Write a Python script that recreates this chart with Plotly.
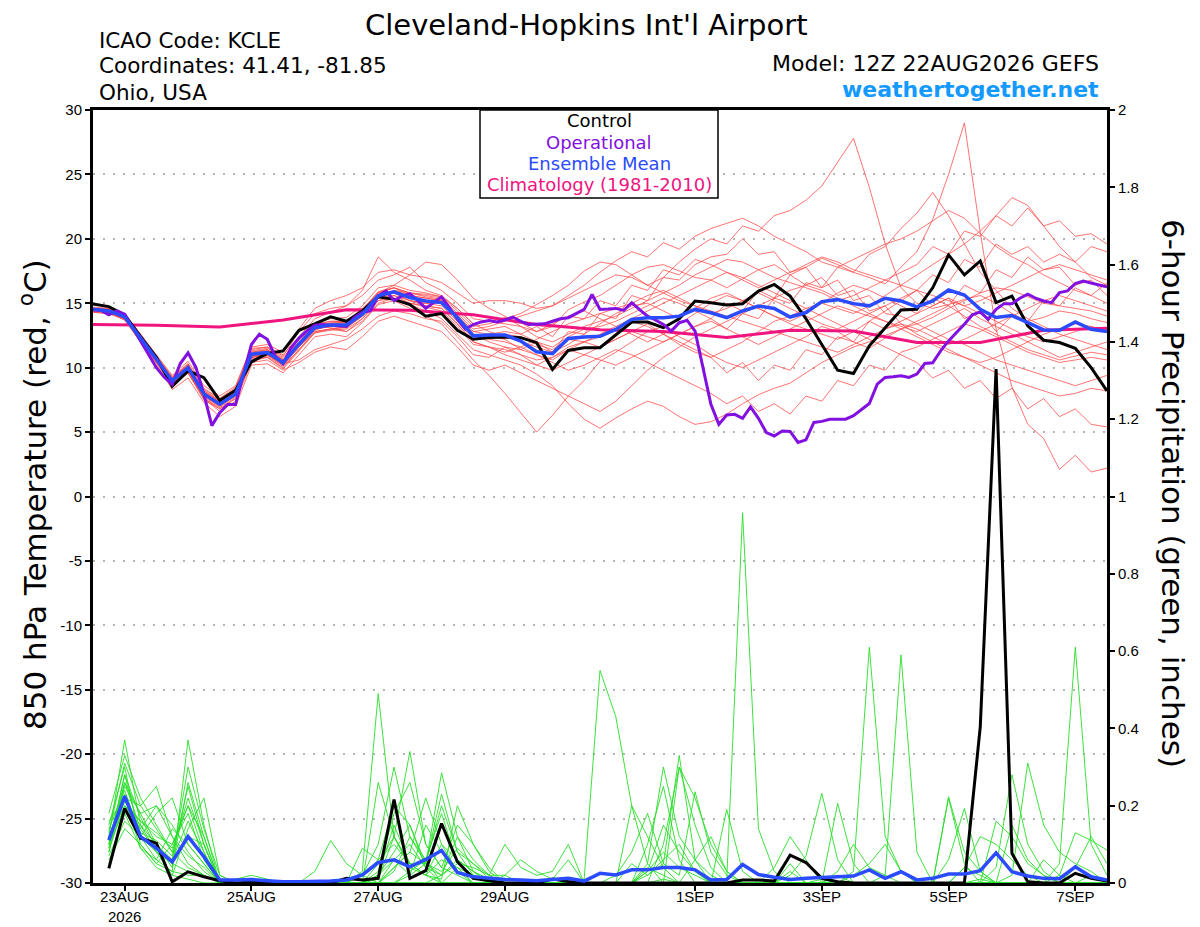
import plotly.graph_objects as go
import pandas as pd

# forecast valid times: GEFS 6-hourly, operational GFS 3-hourly, climatology daily
t6 = pd.date_range("2026-08-22 12:00", "2026-09-07 12:00", freq="6h")
tp = pd.date_range("2026-08-22 18:00", "2026-09-07 12:00", freq="6h")
t3 = pd.date_range("2026-08-22 12:00", "2026-09-07 12:00", freq="3h")
tc = pd.date_range("2026-08-22 12:00", "2026-09-07 12:00", freq="1D")

tick_dates = ["2026-08-23", "2026-08-25", "2026-08-27", "2026-08-29",
              "2026-09-01", "2026-09-03", "2026-09-05", "2026-09-07"]
tick_text = ["23AUG<br>2026", "25AUG", "27AUG", "29AUG", "1SEP", "3SEP", "5SEP", "7SEP"]
temp_ticks = [30, 25, 20, 15, 10, 5, 0, -5, -10, -15, -20, -25, -30]
temp_tick_text = ["30", "25", "20", "15", "10", "5", "0", "-5", "-10", "-15", "-20", "-25", "-30"]

# 850 hPa temperature (C)
control_t = [
    14.95, 14.74, 14.1, 12.4, 10.8, 8.55, 9.75, 9.22, 7.45, 8.25, 10.45, 11.1, 11.3,
    12.9, 13.4, 13.94, 13.6, 14.4, 15.5, 15.3, 14.9, 14.0, 14.2, 12.9, 12.2, 12.35,
    12.38, 12.33, 11.94, 9.87, 11.34, 11.55, 11.55, 12.58, 13.54, 13.54, 13.1, 13.8, 15.17,
    15.04, 14.86, 14.96, 15.94, 16.46, 15.56, 13.8, 11.82, 9.8, 9.55, 11.7, 13.1, 14.48,
    14.53, 16.2, 18.75, 17.2, 18.28, 15.05, 15.56, 13.24, 12.13, 11.95, 11.5, 10.0, 8.2]

mean_t = [
    14.53, 14.4, 13.94, 12.34, 10.66, 8.98, 10.0, 7.95, 7.17, 7.95, 11.05, 11.18, 10.4,
    11.82, 13.1, 13.32, 13.32, 14.15, 15.57, 15.88, 15.44, 15.18, 15.05, 13.89, 12.47, 12.53,
    12.53, 12.07, 11.24, 11.09, 12.27, 12.38, 12.43, 12.97, 13.75, 13.88, 13.88, 14.0, 14.52,
    14.26, 13.88, 14.4, 14.78, 14.6, 13.93, 14.28, 15.13, 15.28, 14.97, 14.8, 15.39, 15.18,
    14.72, 15.18, 16.03, 15.64, 14.53, 13.89, 14.04, 13.5, 12.93, 12.9, 13.55, 12.98, 12.8]

oper_t = [
    14.5, 14.45, 14.1, 14.4, 14.15, 13.1, 12.1, 11.05, 10.0, 9.25, 8.7, 10.3, 11.15,
    10.0, 7.95, 5.5, 6.5, 7.15, 7.15, 9.5, 11.8, 12.6, 12.2, 10.9, 10.3, 11.55,
    12.3, 12.85, 13.3, 13.35, 13.3, 13.2, 13.2, 13.9, 14.3, 14.4, 15.55, 15.95, 15.2,
    15.55, 15.75, 15.2, 14.6, 15.05, 15.5, 14.65, 13.75, 13.0, 13.35, 13.55, 13.65,
    13.55, 13.7, 13.93, 13.6, 13.36, 13.36, 13.4, 13.6, 13.8, 13.88, 14.2, 14.52, 15.68,
    14.52, 14.55, 14.6, 14.45, 15.04, 14.5, 14.0, 13.7, 13.36, 12.84, 13.49, 13.67, 12.84,
    10.0, 7.16, 5.6, 6.33, 6.38, 6.07, 6.95, 6.07, 4.96, 4.7, 5.09, 5.05, 4.2, 4.4,
    5.75, 5.83, 6.0, 6.0, 6.0, 6.27, 6.78, 7.22, 8.72, 9.24, 9.29, 9.37, 9.24, 9.5,
    10.32, 10.38, 11.3, 12.08, 12.73, 13.37, 14.1, 14.33, 13.76, 14.53, 14.97, 14.97, 15.39,
    15.7, 15.39, 15.18, 15.05, 15.83, 15.96, 16.52, 16.73, 16.6, 16.42, 16.27]

clim_t = [13.35, 13.3, 13.15, 13.7, 14.5, 14.45, 14.1, 13.35, 12.95, 12.8, 12.35,
          12.9, 12.85, 11.95, 11.95, 12.9, 13.05]

temp_members = [
    [14.6, 14.5, 14.0, 12.5, 10.9, 9.3, 10.3, 8.4, 7.6, 8.3, 11.3, 11.5, 10.8,
     12.2, 13.5, 13.8, 13.9, 14.8, 16.2, 16.4, 16.0, 15.8, 15.5, 14.6, 13.4, 13.6,
     13.9, 13.5, 12.8, 13.2, 14.5, 15.1, 15.6, 16.4, 17.2, 17.8, 18.0, 17.5, 17.0,
     16.8, 16.2, 16.9, 17.6, 18.0, 17.2, 17.8, 18.5, 18.0, 17.4, 17.0, 16.5, 17.8,
     19.0, 21.5, 25.0, 29.0, 20.5, 13.0, 8.5, 5.6, 4.5, 2.1, 3.2, 1.9, 2.2],
    [14.4, 14.3, 13.8, 12.1, 10.4, 8.6, 9.6, 7.5, 6.8, 7.6, 10.7, 10.8, 9.9,
     11.3, 12.7, 13.0, 13.1, 14.0, 15.4, 16.0, 15.8, 15.7, 15.5, 14.4, 13.2, 13.4,
     13.8, 14.2, 14.9, 15.6, 16.4, 17.5, 18.2, 18.0, 17.2, 16.4, 17.0, 18.2, 19.2,
     20.0, 19.6, 21.0, 20.6, 21.8, 22.2, 23.0, 24.1, 26.0, 27.8, 24.0, 19.6, 16.2,
     15.0, 14.6, 14.9, 15.3, 15.6, 15.0, 14.2, 13.6, 13.9, 14.4, 14.2, 13.8, 13.5],
    [14.5, 14.3, 13.7, 12.0, 10.3, 8.3, 9.2, 7.3, 6.2, 7.0, 10.2, 10.3, 9.6,
     11.0, 12.4, 12.6, 12.4, 13.5, 14.9, 15.2, 14.6, 14.0, 13.4, 12.0, 10.6, 9.4,
     8.0, 6.5, 5.0, 6.3, 7.8, 9.0, 10.5, 11.2, 12.0, 12.8, 13.2, 12.4, 11.8,
     11.0, 10.4, 10.0, 10.6, 11.2, 11.8, 12.4, 13.2, 12.8, 12.0, 11.5, 12.3, 13.0,
     13.6, 14.2, 14.8, 14.0, 13.2, 12.6, 12.0, 11.4, 11.0, 10.6, 10.9, 11.2, 11.0],
    [14.7, 14.6, 14.2, 12.6, 10.9, 9.2, 10.2, 8.1, 7.4, 8.2, 11.2, 11.4, 10.7,
     12.0, 13.2, 13.1, 12.8, 13.6, 15.0, 15.4, 14.9, 14.4, 13.8, 12.6, 11.4, 11.0,
     10.6, 10.2, 9.5, 8.6, 7.2, 6.0, 5.3, 6.1, 6.8, 7.4, 7.0, 6.2, 5.6,
     5.8, 6.4, 7.2, 7.9, 8.4, 8.8, 9.6, 10.4, 11.0, 11.6, 12.0, 12.5, 13.0,
     13.4, 13.9, 14.6, 15.2, 15.8, 16.2, 16.0, 15.5, 15.0, 14.8, 14.6, 14.4, 14.0],
    [14.4, 14.4, 14.1, 12.6, 11.0, 9.4, 10.5, 8.6, 7.8, 8.6, 11.6, 11.8, 11.2,
     13.0, 14.6, 15.2, 15.6, 16.2, 17.4, 17.6, 17.2, 17.0, 16.6, 15.8, 15.0, 15.2,
     15.2, 15.0, 14.6, 14.8, 15.6, 16.4, 17.4, 18.3, 19.0, 18.6, 19.7, 19.2, 20.2,
     20.8, 21.2, 21.6, 21.0, 20.2, 19.6, 19.0, 18.2, 17.8, 18.4, 19.0, 19.6, 20.0,
     20.6, 21.4, 22.2, 21.6, 20.4, 19.4, 18.6, 18.0, 17.2, 16.6, 16.0, 15.6, 15.0],
    [14.6, 14.5, 14.0, 12.4, 10.8, 9.1, 10.1, 8.2, 7.5, 8.4, 11.4, 11.6, 11.0,
     12.4, 13.8, 14.3, 14.8, 16.0, 18.6, 17.4, 16.8, 16.0, 15.6, 14.6, 13.4, 12.8,
     12.4, 12.0, 11.6, 11.2, 11.8, 12.6, 13.4, 14.2, 14.8, 15.0, 14.4, 13.8, 14.6,
     15.4, 15.8, 15.2, 14.6, 14.0, 13.4, 13.0, 12.6, 12.2, 12.8, 13.6, 14.4, 15.2,
     16.0, 17.2, 16.6, 18.4, 17.8, 19.6, 18.8, 19.4, 18.2, 18.8, 18.2, 19.4, 19.0],
    [14.5, 14.4, 13.9, 12.2, 10.6, 8.8, 9.8, 7.8, 7.0, 7.8, 10.8, 11.0, 10.2,
     11.6, 12.9, 13.3, 13.6, 14.6, 15.8, 16.4, 17.2, 18.2, 18.0, 16.8, 15.4, 14.6,
     14.0, 13.2, 12.4, 12.0, 12.6, 13.2, 13.6, 14.0, 14.6, 15.2, 15.8, 16.4, 17.2,
     17.8, 18.4, 18.2, 17.6, 17.0, 16.6, 16.2, 15.8, 15.2, 15.6, 16.2, 16.8, 17.4,
     18.0, 19.4, 18.8, 20.6, 20.2, 21.8, 21.0, 22.4, 21.0, 21.4, 20.2, 20.4, 19.6],
    [14.3, 14.2, 13.7, 12.0, 10.4, 8.7, 9.6, 7.6, 6.9, 7.7, 10.6, 10.9, 10.1,
     11.4, 12.7, 12.9, 13.0, 13.8, 15.2, 15.4, 15.0, 14.7, 14.4, 13.2, 11.8, 11.6,
     11.4, 11.0, 10.2, 9.8, 10.4, 11.0, 11.6, 12.2, 12.8, 13.4, 12.6, 11.8, 11.2,
     10.8, 11.4, 12.0, 12.8, 13.6, 14.0, 14.6, 15.0, 14.6, 14.2, 14.8, 15.6, 16.4,
     17.2, 18.0, 18.8, 19.6, 20.6, 21.8, 23.2, 22.6, 21.0, 19.4, 18.2, 17.0, 16.4],
    [14.6, 14.4, 13.8, 12.2, 10.5, 8.8, 9.9, 8.0, 7.3, 8.0, 11.0, 11.2, 10.5,
     11.9, 13.2, 13.5, 13.5, 14.4, 15.8, 16.2, 15.6, 15.4, 15.2, 14.0, 12.6, 12.0,
     11.6, 11.0, 10.6, 10.8, 11.6, 12.0, 12.4, 13.0, 13.6, 13.2, 12.6, 12.0, 11.4,
     10.8, 9.6, 10.4, 9.0, 10.2, 9.8, 11.4, 11.0, 12.4, 12.0, 13.6, 13.0, 13.4,
     12.6, 12.0, 11.4, 10.8, 10.2, 9.6, 9.0, 8.6, 8.2, 7.8, 8.0, 8.4, 8.2],
    [14.4, 14.3, 13.8, 12.3, 10.6, 8.9, 10.0, 7.9, 7.1, 7.9, 10.9, 11.0, 10.3,
     10.6, 11.4, 11.8, 12.2, 13.0, 14.0, 14.4, 14.2, 13.8, 13.6, 12.4, 11.0, 10.8,
     11.6, 11.4, 11.0, 10.4, 9.8, 10.2, 10.8, 11.4, 11.0, 10.4, 9.8, 9.2, 8.6,
     8.0, 7.2, 7.8, 6.6, 7.2, 6.4, 7.8, 7.4, 9.0, 8.6, 10.2, 9.8, 11.2,
     11.6, 12.2, 12.8, 13.4, 13.0, 12.4, 11.8, 11.2, 10.8, 10.4, 10.6, 10.8, 10.6],
    [14.5, 14.5, 14.0, 12.4, 10.8, 9.1, 10.2, 8.2, 7.4, 8.2, 11.2, 11.4, 10.6,
     12.0, 13.3, 13.6, 13.6, 14.5, 15.9, 16.2, 15.8, 15.5, 15.3, 14.1, 12.8, 13.0,
     13.2, 12.6, 13.2, 12.4, 14.0, 13.8, 15.2, 14.8, 16.4, 16.0, 17.6, 17.2, 18.4,
     18.0, 17.4, 16.8, 16.2, 16.8, 17.4, 18.0, 18.6, 18.2, 17.6, 17.2, 16.8, 16.4,
     16.0, 15.6, 15.2, 14.8, 15.2, 15.8, 16.4, 17.0, 17.6, 18.0, 17.6, 17.2, 16.8],
    [14.6, 14.5, 14.1, 12.5, 10.8, 9.0, 9.8, 7.6, 6.6, 7.4, 10.4, 10.6, 9.8,
     10.4, 11.2, 11.6, 11.4, 12.4, 13.6, 14.0, 13.6, 13.2, 12.8, 11.6, 10.2, 9.8,
     10.2, 9.6, 9.0, 8.4, 7.8, 7.2, 6.6, 7.4, 8.6, 9.8, 10.8, 11.6, 12.4,
     13.0, 13.6, 14.2, 14.8, 15.4, 16.0, 16.4, 16.0, 15.4, 14.8, 14.2, 13.6, 13.0,
     12.4, 11.8, 11.2, 10.8, 10.4, 10.8, 11.4, 12.0, 12.6, 13.0, 13.4, 13.2, 12.8],
    [14.5, 14.3, 13.9, 12.3, 10.7, 9.0, 10.0, 8.0, 7.3, 8.1, 11.1, 11.3, 10.5,
     11.9, 13.1, 13.4, 13.6, 14.4, 15.6, 15.8, 15.2, 15.0, 15.0, 14.0, 12.8, 12.6,
     12.8, 12.6, 12.0, 11.6, 12.4, 13.0, 13.2, 13.6, 14.2, 14.8, 15.4, 15.0, 14.4,
     13.8, 13.0, 14.2, 13.8, 15.4, 15.0, 16.6, 16.2, 17.8, 17.4, 18.8, 19.4, 20.8,
     22.0, 23.6, 21.8, 19.6, 17.4, 16.0, 14.6, 13.8, 13.2, 12.6, 12.2, 11.8, 11.4],
    [14.4, 14.4, 13.9, 12.2, 10.5, 8.7, 9.7, 7.7, 7.0, 7.9, 10.8, 11.0, 10.2,
     11.6, 13.0, 13.2, 13.3, 14.2, 15.6, 15.8, 15.2, 15.0, 14.8, 13.6, 12.2, 12.4,
     12.6, 12.4, 11.8, 11.4, 12.2, 12.0, 11.6, 12.2, 12.8, 12.4, 12.0, 12.6, 13.2,
     13.6, 13.0, 12.4, 11.8, 12.4, 13.0, 13.6, 14.2, 14.8, 14.4, 14.0, 13.6, 13.2,
     12.8, 13.4, 14.0, 14.6, 13.8, 13.2, 12.6, 12.0, 11.4, 10.8, 11.2, 11.6, 12.0],
    [14.6, 14.6, 14.1, 12.5, 10.9, 9.2, 10.3, 8.3, 7.6, 8.5, 11.5, 11.6, 10.9,
     12.8, 14.2, 14.6, 14.8, 15.6, 16.8, 17.2, 17.8, 16.6, 16.0, 15.0, 13.8, 13.6,
     13.4, 13.2, 12.8, 13.4, 14.0, 14.4, 13.8, 13.2, 12.6, 12.0, 12.6, 13.4, 14.2,
     15.0, 15.6, 15.2, 14.6, 14.0, 13.6, 14.2, 15.0, 15.8, 16.4, 16.0, 15.4, 14.8,
     14.2, 14.8, 15.4, 14.8, 14.2, 13.6, 13.0, 12.4, 12.0, 12.4, 12.8, 13.2, 12.8],
    [14.3, 14.2, 13.8, 12.2, 10.6, 8.9, 9.9, 7.9, 7.1, 7.8, 10.8, 11.0, 10.2,
     11.6, 12.8, 13.0, 13.2, 14.0, 15.4, 15.6, 15.0, 14.8, 14.6, 13.4, 12.0, 11.6,
     11.2, 11.6, 12.2, 12.8, 13.4, 13.8, 14.2, 14.6, 15.0, 15.6, 16.0, 15.4, 14.8,
     14.2, 14.6, 15.2, 15.8, 15.2, 14.6, 14.0, 13.4, 13.0, 13.6, 14.2, 14.8, 15.4,
     16.0, 14.8, 15.4, 13.8, 14.4, 12.8, 14.0, 13.6, 15.2, 14.8, 16.2, 15.6, 16.6],
    [14.5, 14.4, 14.0, 12.4, 10.7, 9.1, 10.1, 8.1, 7.3, 8.0, 11.0, 11.2, 10.4,
     11.8, 13.2, 13.4, 13.4, 14.2, 15.6, 16.0, 15.6, 15.4, 15.2, 14.0, 12.6, 12.4,
     12.2, 11.4, 12.0, 11.2, 12.8, 12.6, 14.2, 13.8, 15.6, 15.2, 17.0, 16.8, 18.0,
     18.6, 18.8, 20.0, 18.8, 19.0, 17.4, 17.8, 16.2, 16.8, 15.2, 15.6, 14.2, 14.0,
     13.4, 12.8, 12.2, 11.8, 11.2, 10.6, 10.2, 9.8, 9.4, 9.0, 8.6, 9.0, 9.4],
    [14.4, 14.3, 13.8, 12.2, 10.5, 8.6, 9.6, 7.6, 6.8, 7.6, 10.5, 10.8, 10.0,
     11.4, 12.8, 13.0, 12.8, 13.8, 15.2, 15.6, 15.2, 14.8, 14.6, 13.4, 12.0, 11.6,
     11.0, 10.6, 10.2, 10.8, 11.4, 11.0, 10.6, 10.2, 10.8, 11.4, 12.0, 12.6, 13.2,
     13.8, 15.0, 14.4, 16.0, 15.4, 17.2, 16.4, 17.0, 15.6, 16.0, 14.4, 14.8, 13.4,
     13.0, 12.4, 11.8, 12.2, 12.8, 13.4, 14.0, 14.6, 15.2, 15.6, 15.2, 14.8, 14.4],
    [14.6, 14.4, 13.9, 12.3, 10.8, 9.0, 10.0, 8.0, 7.2, 8.0, 11.1, 11.3, 10.6,
     12.0, 13.4, 13.6, 13.6, 14.4, 15.8, 16.2, 15.8, 15.6, 15.4, 14.2, 13.0, 13.2,
     13.6, 14.0, 14.4, 14.8, 15.4, 16.0, 16.6, 17.2, 17.0, 16.4, 15.8, 15.2, 14.8,
     14.4, 14.0, 13.6, 13.2, 12.8, 12.4, 12.0, 11.6, 11.2, 11.8, 12.4, 13.0, 13.6,
     14.2, 15.4, 14.8, 16.4, 15.8, 17.6, 17.0, 18.6, 17.6, 17.8, 16.4, 16.8, 15.6],
    [14.5, 14.5, 14.0, 12.4, 10.8, 9.1, 10.0, 7.9, 7.1, 7.9, 10.9, 11.1, 10.3,
     11.7, 13.0, 13.2, 13.1, 14.0, 15.4, 15.8, 15.4, 15.2, 15.0, 13.8, 12.4, 12.2,
     12.0, 11.6, 11.0, 10.6, 11.4, 12.0, 12.6, 13.2, 13.8, 14.4, 15.0, 15.6, 16.2,
     16.8, 17.4, 17.0, 16.4, 15.8, 15.2, 14.6, 14.0, 13.4, 12.8, 12.2, 11.6, 11.0,
     10.4, 9.2, 9.8, 8.4, 9.0, 7.6, 8.4, 6.8, 7.6, 6.2, 6.8, 5.6, 5.4],
]

# 6-hour precipitation (inches)
control_p = [
    .038, .193, .116, .103, .003, .029, .016, .006, 0, .002, 0, 0, 0, 0, 0, .012,
    .008, .012, .216, .012, .032, .154, .055, .012, .006, 0, 0, 0, .01, .004, 0, 0,
    0, 0, 0, 0, 0, 0, 0, 0, .008, .008, .005, .072, .053, .012, .003, 0,
    0, 0, 0, 0, 0, 0, 0, .404, 1.33, .077, .003, 0, 0, .025, .012, .005]

mean_p = [
    .111, .225, .12, .09, .055, .12, .068, .008, .008, .009, .006, .003, .003, .003, .005, .008,
    .021, .053, .06, .042, .061, .084, .027, .016, .012, .009, .008, .006, .009, .012, .005, .025,
    .021, .034, .034, .04, .04, .034, .008, .009, .048, .022, .015, .009, .012, .013, .016, .018,
    .034, .012, .029, .008, .012, .023, .023, .032, .078, .029, .018, .012, .011, .042, .016, .008]

precip_members = [
    [.12, .37, .15, .08, .02, .01, 0, 0, 0, 0, 0, 0, 0, 0, 0,
     0, .03, .49, .12, .04, .02, 0, 0, 0, 0, 0, 0, 0, 0, 0, 0,
     0, 0, 0, 0, .01, 0, 0, 0, 0, 0, 0, 0, 0, 0, 0, .02, 0,
     0, 0, 0, 0, 0, 0, 0, .01, 0, 0, 0, 0, 0, 0, 0, 0],
    [.1, .28, .12, .06, .03, .37, .15, 0, 0, 0, 0, 0, 0, 0, 0,
     0, .02, .06, .1, .05, .02, .06, .04, 0, 0, 0, 0, 0, 0, 0, .01,
     .55, .43, .2, .05, 0, 0, 0, 0, 0, 0, 0, 0, 0, 0, .01, 0, 0,
     0, 0, 0, 0, 0, 0, 0, 0, 0, 0, 0, 0, 0, 0, 0, 0],
    [.08, .22, .2, .25, .12, .05, .02, 0, 0, 0, 0, 0, 0, 0, 0,
     0, 0, .05, .12, .34, .1, .04, .02, 0, 0, 0, 0, 0, 0, 0, 0,
     0, 0, 0, .05, .3, .12, .06, .02, 0, 0, 0, 0, 0, 0, 0, 0, .03,
     .61, .12, .03, 0, 0, 0, 0, 0, 0, 0, 0, 0, 0, 0, 0, 0],
    [.15, .3, .1, .05, .1, .2, .08, 0, 0, 0, 0, 0, 0, 0, 0,
     0, 0, 0, .04, .08, .22, .1, .03, 0, 0, 0, 0, 0, 0, 0, 0,
     0, 0, 0, 0, 0, .3, .22, .1, .03, 0, 0, 0, 0, 0, 0, 0, 0,
     0, .02, .59, .08, 0, 0, 0, 0, 0, 0, 0, 0, 0, 0, 0, 0],
    [.05, .18, .09, .04, .02, .14, .22, .02, 0, 0, 0, 0, 0, 0, 0,
     0, 0, .26, .12, .05, .05, .285, .12, .03, .01, 0, 0, 0, 0, 0, 0,
     0, .02, .08, .18, .05, .02, .236, .08, .02, 0, 0, 0, 0, 0, 0, 0, 0,
     0, 0, 0, 0, 0, .22, .05, 0, 0, 0, 0, 0, .05, .61, .1, .02],
    [.1, .25, .18, .1, .04, .26, .12, 0, 0, 0, 0, 0, 0, 0, 0,
     0, 0, .02, .06, .02, .05, .2, .08, .02, 0, 0, 0, 0, 0, 0, 0,
     0, 0, .05, .02, .05, .33, .06, 0, 0, 0, 0, 0, 0, 0, 0, 0, .02,
     .05, .1, .03, 0, 0, 0, 0, 0, 0, .02, .31, .15, .08, .05, .03, 0],
    [.18, .33, .22, .15, .08, .04, .02, 0, 0, 0, 0, 0, 0, 0, 0,
     0, 0, 0, 0, 0, 0, 0, 0, 0, 0, 0, 0, 0, 0, 0, 0,
     0, 0, 0, 0, 0, 0, 0, 0, .01, .958, .14, .03, 0, 0, 0, 0, 0,
     0, 0, 0, 0, 0, 0, 0, 0, 0, 0, 0, 0, 0, 0, 0, 0],
    [.12, .2, .14, .2, .15, .08, .03, 0, .01, 0, 0, 0, 0, .03, .11,
     .05, .02, 0, 0, .02, .15, .08, .03, .02, 0, 0, 0, 0, 0, 0, 0,
     0, 0, .2, .12, .04, 0, 0, 0, .19, .03, 0, 0, .02, .07, .232, .06, 0,
     0, 0, 0, 0, 0, 0, 0, 0, 0, 0, 0, .06, .02, 0, 0, 0],
    [.14, .24, .12, .18, .22, .1, .05, 0, 0, 0, 0, 0, 0, 0, 0,
     0, .09, .06, .2, .15, .05, .23, .08, .05, .01, 0, 0, 0, 0, 0, 0,
     0, 0, 0, .1, .25, .06, 0, 0, 0, 0, 0, 0, 0, 0, 0, .206, .05,
     0, 0, 0, 0, 0, .06, .193, .03, 0, 0, 0, 0, 0, 0, 0, 0],
    [.06, .14, .1, .05, .03, .02, .02, 0, 0, 0, 0, 0, 0, 0, 0,
     0, .02, .1, .3, .12, .06, .18, .05, .02, 0, 0, 0, 0, 0, 0, 0,
     0, 0, 0, 0, 0, 0, 0, 0, 0, 0, 0, 0, 0, 0, 0, 0, 0,
     0, 0, 0, 0, 0, .223, .08, .03, 0, 0, 0, 0, 0, 0, 0, 0],
    [.09, .2, .16, .12, .1, .18, .06, 0, 0, 0, 0, 0, 0, 0, 0,
     0, 0, 0, 0, 0, 0, .02, .05, .04, .02, .02, 0, 0, 0, 0, 0,
     0, 0, 0, 0, 0, 0, 0, 0, 0, 0, 0, 0, 0, 0, 0, 0, 0,
     0, 0, 0, 0, 0, 0, 0, 0, .04, .28, .1, .03, 0, 0, .02, 0],
    [.11, .26, .14, .08, .06, .3, .14, .02, 0, 0, 0, 0, 0, 0, 0,
     0, 0, .03, .18, .26, .1, .04, .15, .1, .04, 0, 0, 0, 0, 0, 0,
     0, 0, 0, .03, .08, .04, .02, 0, 0, 0, 0, .04, .12, .06, 0, 0, 0,
     0, 0, 0, 0, 0, 0, 0, 0, 0, 0, 0, 0, .02, .13, .11, .085],
    [.07, .16, .12, .08, .05, .12, .1, 0, 0, 0, 0, 0, 0, 0, 0,
     0, 0, 0, .04, .08, .05, .02, .12, .06, .02, .1, .04, .02, .03, .1, 0,
     0, 0, 0, 0, 0, 0, 0, 0, 0, 0, 0, 0, 0, 0, 0, 0, 0,
     0, 0, 0, 0, 0, 0, .04, .12, .1, .06, .02, 0, 0, 0, 0, 0],
    [.13, .31, .2, .14, .08, .22, .1, 0, 0, 0, 0, 0, 0, 0, 0,
     0, 0, .01, .12, .05, .02, .1, .06, .03, 0, 0, 0, 0, 0, 0, 0,
     0, 0, 0, .04, .02, 0, .06, .12, .03, 0, 0, 0, 0, 0, 0, 0, 0,
     0, 0, 0, 0, 0, 0, 0, 0, 0, 0, 0, 0, 0, 0, 0, 0],
    [.16, .22, .09, .06, .14, .1, .05, 0, 0, 0, 0, 0, 0, 0, 0,
     0, 0, 0, 0, 0, 0, 0, 0, 0, 0, 0, 0, 0, 0, 0, 0,
     0, 0, 0, 0, .1, .3, .15, .04, 0, 0, 0, 0, .03, 0, 0, 0, 0,
     0, 0, 0, 0, 0, 0, 0, 0, .16, .12, .05, .02, 0, 0, 0, 0],
    [.1, .19, .15, .1, .06, .16, .08, 0, .01, .02, .01, 0, 0, 0, 0,
     0, 0, .02, .08, .15, .04, 0, .04, .02, 0, .02, .06, .03, .01, .06, 0,
     0, 0, 0, 0, 0, 0, 0, 0, 0, 0, 0, 0, 0, 0, 0, .03, .1,
     .04, .02, 0, 0, 0, 0, 0, 0, 0, 0, 0, 0, 0, 0, 0, 0],
    [.08, .26, .18, .2, .12, .07, .04, 0, 0, 0, 0, 0, 0, 0, 0,
     0, 0, .02, .15, .05, .02, .01, .2, .1, .03, 0, 0, 0, 0, 0, 0,
     0, 0, 0, 0, 0, 0, 0, 0, 0, 0, 0, 0, .05, 0, 0, 0, 0,
     0, 0, 0, 0, 0, 0, 0, 0, 0, 0, 0, 0, 0, 0, 0, 0],
    [.12, .23, .13, .11, .07, .25, .1, 0, 0, 0, 0, 0, 0, 0, 0,
     0, 0, 0, 0, .03, .06, 0, 0, 0, 0, 0, 0, 0, 0, 0, 0,
     0, 0, 0, .03, .15, .08, .03, 0, 0, 0, 0, 0, 0, 0, 0, 0, 0,
     0, 0, 0, 0, 0, 0, 0, 0, 0, .15, .06, .02, 0, .04, .12, .05],
    [.09, .28, .17, .09, .05, .03, .02, 0, 0, 0, 0, 0, 0, 0, 0,
     0, 0, 0, .06, .1, .04, .02, .06, .03, 0, 0, 0, 0, 0, 0, 0,
     0, 0, 0, 0, 0, 0, 0, 0, 0, 0, 0, 0, 0, 0, 0, 0, 0,
     0, 0, 0, 0, 0, 0, 0, 0, 0, 0, 0, 0, 0, 0, 0, 0],
    [.11, .21, .16, .13, .09, .2, .12, 0, 0, 0, 0, 0, 0, 0, 0,
     0, 0, 0, .03, .12, .05, .03, .09, .05, .02, 0, 0, 0, 0, 0, 0,
     0, 0, 0, .02, .06, .1, .03, 0, 0, 0, 0, 0, 0, 0, 0, 0, 0,
     0, 0, 0, 0, 0, 0, .04, .02, 0, 0, 0, 0, 0, 0, 0, 0],
]

RED = "rgba(255,70,70,0.85)"
GREEN = "rgb(40,222,40)"
PURPLE = "#8210e0"
BLUE = "#2a4bff"
PINK = "#f0147f"
HEAD = "DejaVu Sans, Liberation Sans, sans-serif"

fig = go.Figure()

for row in temp_members:
    fig.add_trace(go.Scatter(x=t6, y=row, mode="lines", line=dict(color=RED, width=0.9)))
fig.add_trace(go.Scatter(x=tc, y=clim_t, mode="lines", line=dict(color=PINK, width=3)))
fig.add_trace(go.Scatter(x=t6, y=control_t, mode="lines", line=dict(color="black", width=3)))
fig.add_trace(go.Scatter(x=t3, y=oper_t, mode="lines", line=dict(color=PURPLE, width=3)))
fig.add_trace(go.Scatter(x=t6, y=mean_t, mode="lines", line=dict(color=BLUE, width=3.5)))

for row in precip_members:
    fig.add_trace(go.Scatter(x=tp, y=row, mode="lines", line=dict(color=GREEN, width=0.9), yaxis="y2"))
fig.add_trace(go.Scatter(x=tp, y=control_p, mode="lines", line=dict(color="black", width=3), yaxis="y2"))
fig.add_trace(go.Scatter(x=tp, y=mean_p, mode="lines", line=dict(color=BLUE, width=3.5), yaxis="y2"))

# plot area as it should appear on screen (the page body adds an 8px offset)
PL, PR, PT, PB = 93, 1107, 110, 883
BODY = 8


def px(x):
    return (x - PL) / (PR - PL)


def py(y):
    return (PB - y) / (PB - PT)


def note(text, x, y, size, color="black", xanchor="center", angle=0, family=HEAD, pad=1):
    fig.add_annotation(text=text, x=px(x), y=py(y), xref="paper", yref="paper",
                       xanchor=xanchor, yanchor="middle", showarrow=False, textangle=angle,
                       borderpad=pad, font=dict(family=family, size=size, color=color))


note("Cleveland-Hopkins Int'l Airport", 586, 25, 29, pad=0)
note("ICAO Code: KCLE", 97, 41, 21.5, xanchor="left")
note("Coordinates: 41.41, -81.85", 97, 66, 21.5, xanchor="left")
note("Ohio, USA", 97, 93, 21.5, xanchor="left")
note("Model: 12Z 22AUG2026 GEFS", 1101, 63, 22, xanchor="right")
note("<b>weathertogether.net</b>", 1101, 89, 22, color="#1499ff", xanchor="right")

fig.add_shape(type="rect", xref="paper", yref="paper", x0=px(480), x1=px(718),
              y0=py(198), y1=py(110), line=dict(color="black", width=1.5),
              fillcolor="white", layer="above")
note("Control", 599, 121, 18)
note("Operational", 599, 142, 18, color=PURPLE)
note("Ensemble Mean", 599, 163, 18, color=BLUE)
note("Climatology (1981-2010)", 599, 185, 18, color=PINK)

note("850 hPa Temperature (red, <sup>o</sup>C)", 33, 495, 31, angle=-90)
note("6-hour Precipitation (green, inches)", 1173, 493, 31, angle=90)

axis_line = dict(showline=True, linewidth=3, linecolor="black", zeroline=False, automargin=False)
fig.update_layout(
    width=1200, height=927,
    margin=dict(l=PL - BODY, r=1200 - PR + BODY, t=PT - BODY, b=927 - PB + BODY),
    paper_bgcolor="white", plot_bgcolor="white",
    showlegend=False,
    font=dict(family="Liberation Sans, Arial, sans-serif", size=15, color="black"),
    xaxis=dict(type="date", range=["2026-08-22 12:00", "2026-09-07 12:00"],
               tickvals=tick_dates, ticktext=tick_text, ticks="outside", ticklen=5,
               tickwidth=1.5, tickcolor="black", ticklabelstandoff=-7,
               mirror=True, showgrid=False, **axis_line),
    yaxis=dict(range=[-30, 30], tickvals=temp_ticks, ticktext=temp_tick_text,
               ticks="outside", ticklen=5, tickwidth=1.5, tickcolor="black", mirror=True,
               showgrid=True, gridcolor="#b4b4b4", gridwidth=2, griddash="2px,8px", **axis_line),
    yaxis2=dict(overlaying="y", side="right", range=[0, 2], dtick=0.2, tick0=0,
                ticks="outside", ticklen=5, tickwidth=1.5, tickcolor="black",
                showgrid=False, **axis_line),
)

fig.write_html("out.html")
